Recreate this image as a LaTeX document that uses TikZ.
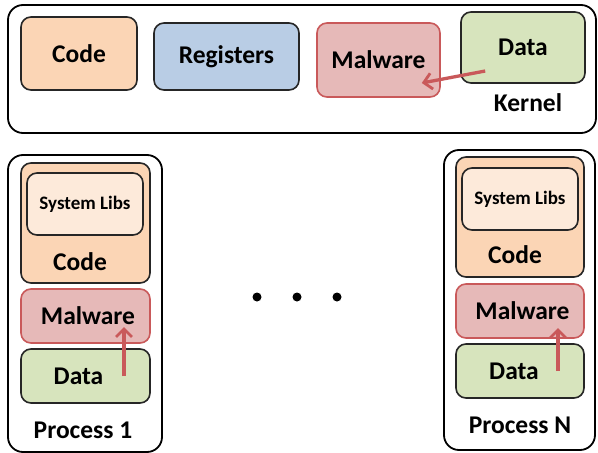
\documentclass[tikz,border=0pt]{standalone}
\usepackage{fontspec}
\setmainfont{Carlito}
\usetikzlibrary{arrows.meta}
\definecolor{orangef}{HTML}{FBD5B5}
\definecolor{bluef}{HTML}{B9CDE5}
\definecolor{redf}{HTML}{E6B9B8}
\definecolor{redd}{HTML}{C9595A}
\definecolor{greenf}{HTML}{D7E4BD}
\definecolor{libf}{HTML}{FDEADA}
\tikzset{
  outerbox/.style={draw=black, line width=1.8pt, rounded corners=15pt, fill=white},
  memb/.style={draw=black!85, line width=1.6pt, rounded corners=10pt, inner sep=0pt, font=\fontsize{25.5}{30}\selectfont\bfseries},
  codeb/.style={memb, fill=orangef},
  regb/.style={memb, fill=bluef},
  malb/.style={memb, fill=redf, draw=redd},
  datab/.style={memb, fill=greenf},
  libb/.style={memb, fill=libf, font=\fontsize{19}{23}\selectfont\bfseries},
  lbl/.style={font=\fontsize{25.5}{30}\selectfont\bfseries, inner sep=0pt},
  arr/.style={draw=redd, line width=3.3pt, -{Straight Barb[length=8pt,width=16pt,line width=2.8pt]}},
  dot/.style={circle, fill=black, inner sep=0pt, minimum size=9pt}
}
\begin{document}
\begin{tikzpicture}[x=1pt,y=-1pt]
\useasboundingbox (0,0) rectangle (598,453);
% Kernel
\node[outerbox, minimum width=588pt, minimum height=128pt] (kernel) at (302,69) {};
\node[codeb, minimum width=116pt, minimum height=73pt] (kcode) at (79,53.5) {Code};
\node[regb, minimum width=145pt, minimum height=67pt] (kreg) at (226.5,56.5) {Registers};
\node[malb, minimum width=123pt, minimum height=74pt] (kmal) at (378.5,60) {Malware};
\node[datab, minimum width=124pt, minimum height=71pt] (kdata) at (523,47.5) {Data};
\node[lbl] (klabel) at (528,103) {Kernel};
\draw[arr] ([shift={(25,23.5)}]kdata.west) -- ([shift={(-19,23)}]kmal.east);
% Process 1
\node[outerbox, minimum width=154pt, minimum height=297pt] (p1) at (85,303.5) {};
\node[codeb, minimum width=129pt, minimum height=120pt] (p1code) at (85.5,223) {};
\node[libb, minimum width=116pt, minimum height=62pt] (p1lib) at (85,204) {System Libs};
\node[lbl] (p1codel) at (80,262) {Code};
\node[malb, minimum width=129pt, minimum height=54pt] (p1mal) at (85.5,316) {\hspace*{5pt}Malware};
\node[datab, minimum width=129pt, minimum height=54pt] (p1data) at (85.5,376) {Data\hspace*{14pt}};
\node[lbl] (p1label) at (83,430) {Process 1};
\draw[arr] ([xshift=38.5pt]p1data.center) -- ([shift={(38.5,11)}]p1mal.center);
% dots
\node[dot] (d1) at (257,297) {};
\node[dot] (d2) at (297,297) {};
\node[dot] (d3) at (337,297) {};
% Process N
\node[outerbox, minimum width=151pt, minimum height=300pt] (pn) at (519.5,300) {};
\node[codeb, minimum width=128pt, minimum height=120pt] (pncode) at (520,217) {};
\node[libb, minimum width=116pt, minimum height=62pt] (pnlib) at (520,199) {System Libs};
\node[lbl] (pncodel) at (515,255) {Code};
\node[malb, minimum width=128pt, minimum height=54pt] (pnmal) at (520,311) {\hspace*{5pt}Malware};
\node[datab, minimum width=128pt, minimum height=54pt] (pndata) at (520,371) {Data\hspace*{12pt}};
\node[lbl] (pnlabel) at (520,425) {Process N};
\draw[arr] ([xshift=38pt]pndata.center) -- ([shift={(38,17)}]pnmal.center);
\end{tikzpicture}
\end{document}
